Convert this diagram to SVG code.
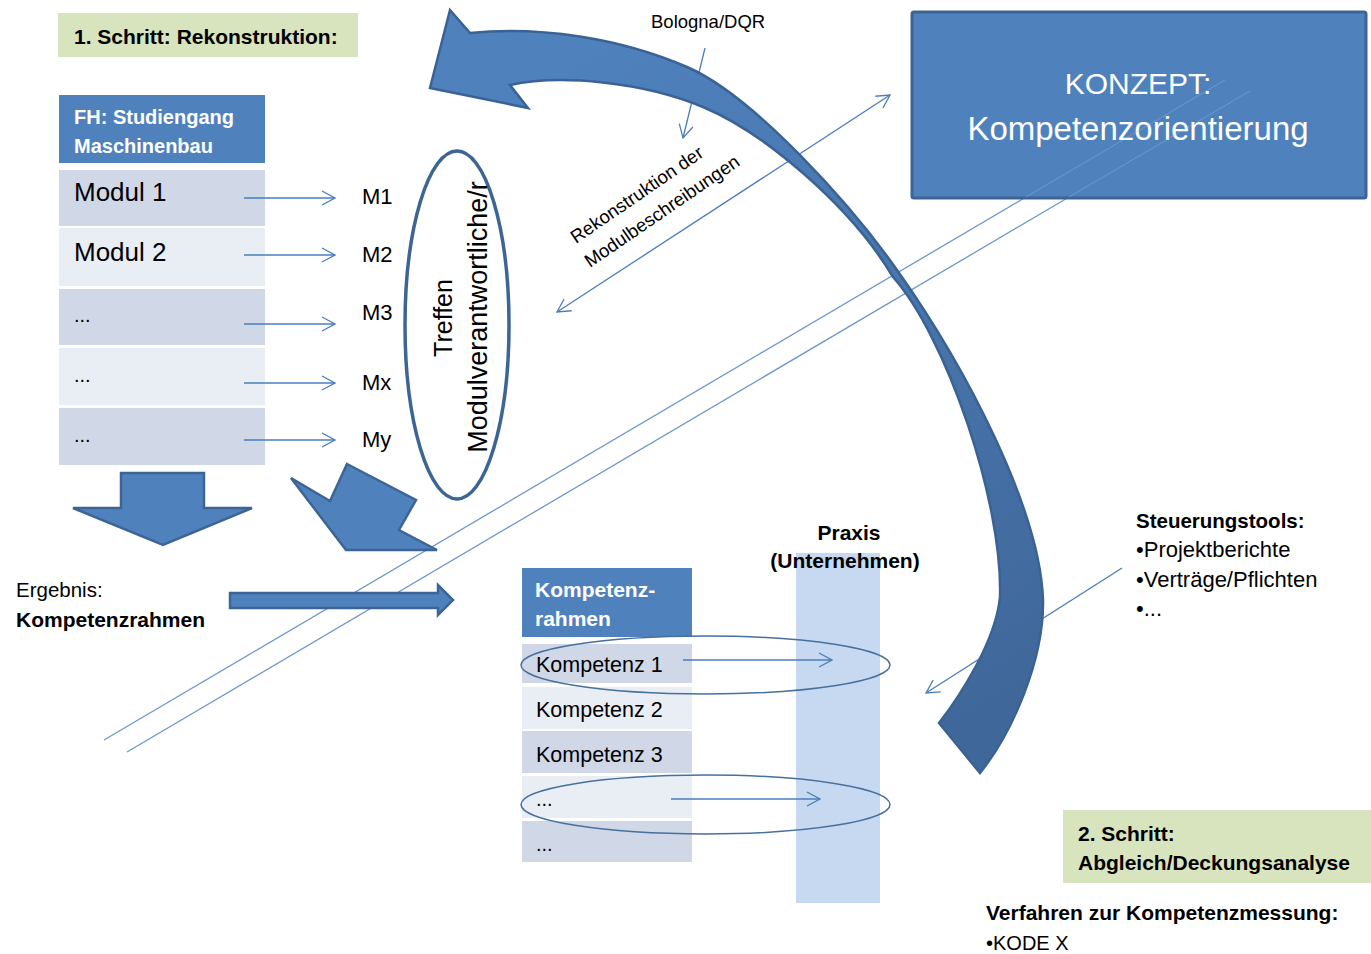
<svg xmlns="http://www.w3.org/2000/svg" width="1371" height="954" viewBox="0 0 1371 954">
<style>
text{font-family:"Liberation Sans",Arial,sans-serif;fill:#000}
.b{font-weight:bold}
.w{fill:#fff}
.hdr{fill:#4f81bd}
.rd{fill:#d0d8e8}
.rl{fill:#e9edf4}
.green{fill:#d7e4bd}
.thin{stroke:#4a7ebb;stroke-width:1.3;fill:none}
.long{stroke:#6f98cc;stroke-width:1.3;fill:none}
.blk{fill:#4f81bd;stroke:#3c6596;stroke-width:2.5;stroke-linejoin:miter}
.oval{fill:none;stroke:#46709f;stroke-width:1.5}
</style>
<defs>
<marker id="open" viewBox="0 0 15 16" refX="14" refY="8" markerWidth="15" markerHeight="16" markerUnits="userSpaceOnUse" orient="auto-start-reverse">
<path d="M1,1 L14,8 L1,15" fill="none" stroke="#4a7ebb" stroke-width="1.3"/>
</marker>
<linearGradient id="arrGrad" gradientUnits="userSpaceOnUse" x1="600" y1="40" x2="1000" y2="720">
<stop offset="0" stop-color="#4f81bd"/>
<stop offset="0.45" stop-color="#4876ad"/>
<stop offset="1" stop-color="#40679a"/>
</linearGradient>
</defs>
<rect width="1371" height="954" fill="#fff"/>

<g id="diagonal-lines">
<line class="long" x1="104" y1="740" x2="1026" y2="197"/>
<line class="long" x1="127" y1="752" x2="1069" y2="197"/>
</g>

<g id="step1-label">
<rect class="green" x="58" y="13" width="300" height="44"/>
<text class="b" x="74" y="44" font-size="21">1. Schritt: Rekonstruktion:</text>
</g>

<g id="studiengang">
<rect class="hdr" x="59" y="95" width="206" height="68"/>
<text class="b w" x="74" y="124" font-size="20">FH: Studiengang</text>
<text class="b w" x="74" y="153" font-size="20">Maschinenbau</text>
<rect class="rd" x="59" y="170" width="206" height="56"/>
<text x="74" y="201" font-size="26">Modul 1</text>
<rect class="rl" x="59" y="228" width="206" height="58"/>
<text x="74" y="261" font-size="26">Modul 2</text>
<rect class="rd" x="59" y="289" width="206" height="56"/>
<text x="74" y="322" font-size="20">...</text>
<rect class="rl" x="59" y="348" width="206" height="57"/>
<text x="74" y="382" font-size="20">...</text>
<rect class="rd" x="59" y="408" width="206" height="57"/>
<text x="74" y="442" font-size="20">...</text>
</g>

<g id="m-labels">
<text x="362" y="204" font-size="22">M1</text>
<text x="362" y="262" font-size="22">M2</text>
<text x="362" y="320" font-size="22">M3</text>
<text x="362" y="390" font-size="22">Mx</text>
<text x="362" y="447" font-size="22">My</text>
</g>

<g id="praxis">
<rect x="796" y="553" width="84" height="350" fill="#c6d9f1"/>
<text class="b" x="849" y="540" font-size="21" text-anchor="middle">Praxis</text>
<text class="b" x="845" y="568" font-size="21" text-anchor="middle">(Unternehmen)</text>
</g>

<g id="kompetenzrahmen">
<rect class="hdr" x="522" y="568" width="170" height="69"/>
<text class="b w" x="535" y="597" font-size="21">Kompetenz-</text>
<text class="b w" x="535" y="626" font-size="21">rahmen</text>
<rect class="rd" x="522" y="644" width="170" height="39"/>
<text x="536" y="672" font-size="21.5">Kompetenz 1</text>
<rect class="rl" x="522" y="687" width="170" height="42"/>
<text x="536" y="717" font-size="21.5">Kompetenz 2</text>
<rect class="rd" x="522" y="731" width="170" height="42"/>
<text x="536" y="762" font-size="21.5">Kompetenz 3</text>
<rect class="rl" x="522" y="776" width="170" height="42"/>
<text x="536" y="806" font-size="20">...</text>
<rect class="rd" x="522" y="821" width="170" height="41"/>
<text x="536" y="851" font-size="20">...</text>
<ellipse class="oval" cx="705.5" cy="665" rx="184.5" ry="29"/>
<ellipse class="oval" cx="705.5" cy="804.5" rx="184.5" ry="29.5"/>
</g>

<g id="connectors">
<line class="thin" x1="244" y1="198" x2="335" y2="198" marker-end="url(#open)"/>
<line class="thin" x1="244" y1="255" x2="335" y2="255" marker-end="url(#open)"/>
<line class="thin" x1="244" y1="324" x2="335" y2="324" marker-end="url(#open)"/>
<line class="thin" x1="244" y1="383" x2="335" y2="383" marker-end="url(#open)"/>
<line class="thin" x1="244" y1="440" x2="335" y2="440" marker-end="url(#open)"/>
<line class="thin" x1="683" y1="660" x2="832" y2="660" marker-end="url(#open)"/>
<line class="thin" x1="671" y1="799" x2="820" y2="799" marker-end="url(#open)"/>
<line class="thin" x1="705" y1="48" x2="683" y2="138" marker-end="url(#open)"/>
<line class="thin" x1="557" y1="312" x2="890" y2="95" marker-start="url(#open)" marker-end="url(#open)"/>
<line class="thin" x1="1122" y1="568" x2="926" y2="693" marker-end="url(#open)"/>
</g>

<g id="bologna">
<text x="651" y="28" font-size="18.5">Bologna/DQR</text>
</g>

<g id="rekonstruktion-label">
<text transform="translate(576,244) rotate(-34.4)" font-size="18.6">Rekonstruktion der</text>
<text transform="translate(590,268) rotate(-34.4)" font-size="18.6">Modulbeschreibungen</text>
</g>

<g id="big-curved-arrow">
<path d="M450,10 L470,33 C540,26 620,38 687,67 C754,96 852,206 897,270 C967,369 1040,510 1043,600 C1044,660 1012,733 980,773 L939,723 C961,695 996,640 1000,597 C1003,500 945,335 893,277 C850,205 763,132 703,107 C643,82 560,74 510,85 L528,108 L430,88 Z" fill="url(#arrGrad)" stroke="#3a6294" stroke-width="2.5" stroke-linejoin="miter"/>
</g>

<g id="konzept">
<rect x="912" y="12" width="454" height="186" rx="2" fill="#4f81bd" stroke="#3c6596" stroke-width="3"/>
<text class="w" x="1138" y="94" font-size="30" text-anchor="middle">KONZEPT:</text>
<text class="w" x="1138" y="140" font-size="33" text-anchor="middle">Kompetenzorientierung</text>
<line x1="1026" y1="197" x2="1225" y2="80" stroke="#9fbde3" stroke-opacity="0.3" stroke-width="1.3"/>
<line x1="1069" y1="197" x2="1250" y2="91" stroke="#9fbde3" stroke-opacity="0.3" stroke-width="1.3"/>
</g>

<g id="block-arrows">
<polygon class="blk" points="121,473 204,473 204,508 252,508 163,545 73,508 121,508"/>
<polygon class="blk" points="347,464 416,500 399,530 437,550 346,550 291,478 330,501"/>
<polygon class="blk" points="230,593 438,593 438,585 453,600 438,615 438,608 230,608"/>
</g>

<g id="ergebnis">
<text x="16" y="597" font-size="20.5">Ergebnis:</text>
<text class="b" x="16" y="627" font-size="21">Kompetenzrahmen</text>
</g>

<g id="treffen">
<ellipse cx="457" cy="325" rx="52" ry="174" fill="#fff" stroke="#3c6596" stroke-width="3.5"/>
<text transform="translate(452,318) rotate(-90)" font-size="25" text-anchor="middle">Treffen</text>
<text transform="translate(487,317) rotate(-90)" font-size="27" text-anchor="middle">Modulverantwortliche/r</text>
</g>

<g id="steuerungstools">
<text class="b" x="1136" y="528" font-size="20.5">Steuerungstools:</text>
<text x="1136" y="557" font-size="22">•Projektberichte</text>
<text x="1136" y="587" font-size="22">•Verträge/Pflichten</text>
<text x="1136" y="616" font-size="22">•...</text>
</g>

<g id="step2-label">
<rect class="green" x="1063" y="810" width="308" height="73"/>
<text class="b" x="1078" y="841" font-size="21">2. Schritt:</text>
<text class="b" x="1078" y="870" font-size="21">Abgleich/Deckungsanalyse</text>
</g>

<g id="verfahren">
<text class="b" x="986" y="920" font-size="21">Verfahren zur Kompetenzmessung:</text>
<text x="986" y="950" font-size="20">•KODE X</text>
</g>
</svg>
